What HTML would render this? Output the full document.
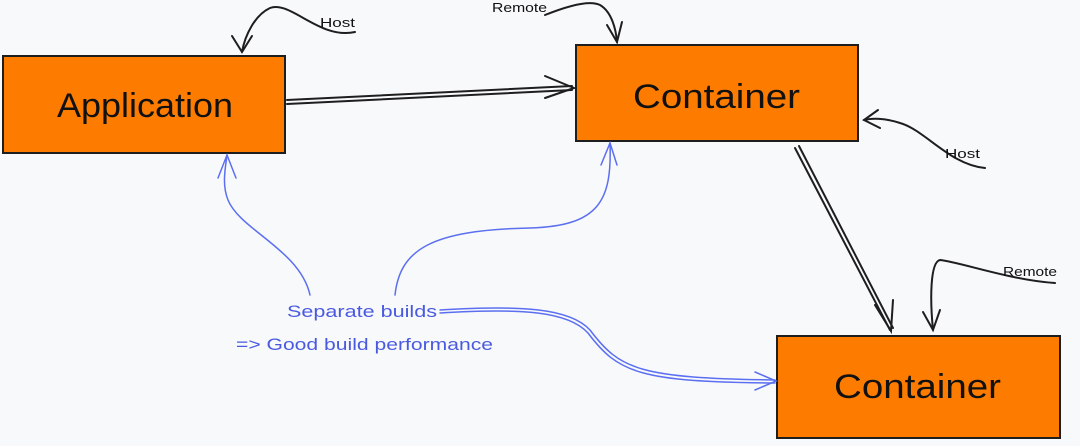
<!DOCTYPE html>
<html><head><meta charset="utf-8"><style>
html,body{margin:0;padding:0;background:#f8f9fb;}
svg{display:block}
text{font-family:"Liberation Sans",sans-serif;}
</style></head><body>
<svg width="1080" height="446" viewBox="0 0 1080 446" xmlns="http://www.w3.org/2000/svg">
<rect width="1080" height="446" fill="#f8f9fb"/>
<rect x="3" y="56" width="282" height="97" fill="#fd7c00" stroke="#1e1e1e" stroke-width="2"/>
<rect x="576" y="45" width="282" height="96" fill="#fd7c00" stroke="#1e1e1e" stroke-width="2"/>
<rect x="777" y="336" width="283" height="102" fill="#fd7c00" stroke="#1e1e1e" stroke-width="2"/>
<text x="57" y="117" font-size="34" textLength="176" lengthAdjust="spacingAndGlyphs" fill="#111">Application</text>
<text x="633" y="108" font-size="34" textLength="167" lengthAdjust="spacingAndGlyphs" fill="#111">Container</text>
<text x="834" y="398" font-size="34" textLength="167" lengthAdjust="spacingAndGlyphs" fill="#111">Container</text>
<g fill="none" stroke="#1e1e1e" stroke-width="2" stroke-linecap="round">
<path d="M287 100 L572 86 M287 104 L572 90"/>
<path d="M545 76 L574 88 L545 98"/>
<path d="M795 148 L890 330 M799 146 L893 328"/>
<path d="M875 305 L891 331 L893 300"/>
<path d="M355 32 C320 40 290 0 270 8 C255 15 245 35 242 52"/>
<path d="M232 36 L242 52 L252 36"/>
<path d="M545 15 C570 5 590 0 600 5 C612 12 616 30 617 42"/>
<path d="M607 25 L617 42 L622 22"/>
<path d="M985 168 C950 165 925 130 900 123 C885 118 872 118 864 120"/>
<path d="M878 110 L864 120 L880 128"/>
<path d="M1055 283 C1010 280 960 262 940 260 C930 262 930 300 933 330"/>
<path d="M923 312 L933 330 L940 310"/>
</g>
<text x="320" y="27" font-size="13" textLength="35" lengthAdjust="spacingAndGlyphs" fill="#111">Host</text>
<text x="492" y="12" font-size="13" textLength="55" lengthAdjust="spacingAndGlyphs" fill="#111">Remote</text>
<text x="945" y="158" font-size="13" textLength="35" lengthAdjust="spacingAndGlyphs" fill="#111">Host</text>
<text x="1003" y="276" font-size="13" textLength="54" lengthAdjust="spacingAndGlyphs" fill="#111">Remote</text>
<g fill="none" stroke="#5b6ff0" stroke-width="1.5" stroke-linecap="round">
<path d="M310 295 C300 250 240 230 228 200 C222 185 225 170 227 155"/>
<path d="M218 178 L227 155 L236 178"/>
<path d="M395 295 C400 250 430 230 530 228 C600 226 612 200 610 143"/>
<path d="M601 165 L610 143 L617 165"/>
<path d="M440 310 C520 305 570 308 590 330 C620 370 640 378 775 380 M440 313 C520 308 568 311 588 333 C618 373 640 382 775 383"/>
<path d="M755 372 L776 381 L755 390"/>
</g>
<text x="287" y="317" font-size="17" textLength="150" lengthAdjust="spacingAndGlyphs" fill="#4a5ae0">Separate builds</text>
<text x="236" y="350" font-size="17" textLength="257" lengthAdjust="spacingAndGlyphs" fill="#4a5ae0">=&gt; Good build performance</text>
</svg>
</body></html>
